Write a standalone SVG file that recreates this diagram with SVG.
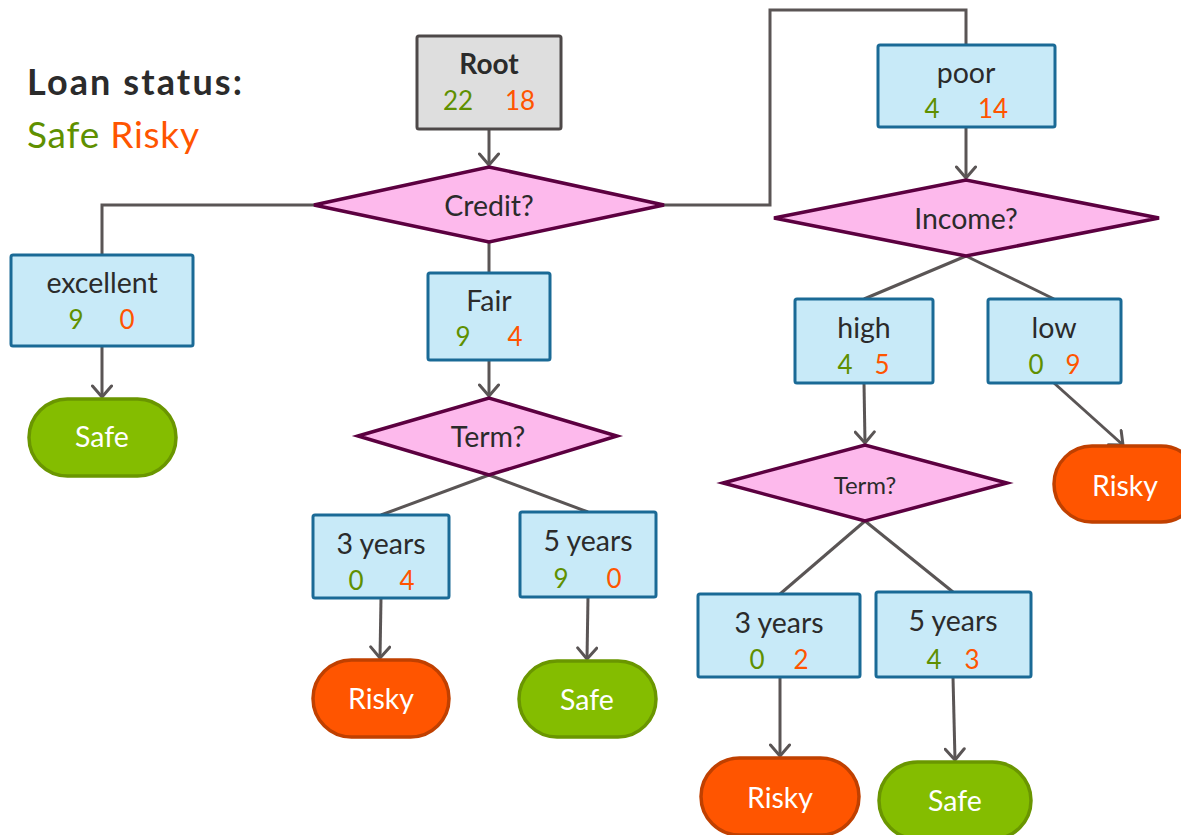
<svg xmlns="http://www.w3.org/2000/svg" width="1181" height="835" viewBox="0 0 1181 835">
<style>
text{font-family:Lato,"Open Sans","Liberation Sans",sans-serif;text-anchor:middle}
.lbl{font-size:28.5px;fill:#2b2b2b}
.g{font-size:26px;fill:#5f9000}
.o{font-size:26px;fill:#ff5500}
.box{fill:#c8eaf8;stroke:#1a6a96;stroke-width:3}
.dia{fill:#fdb9ec;stroke:#5c0040;stroke-width:3.5}
.safe{fill:#84bd00;stroke:#6a9600;stroke-width:3.5}
.risky{fill:#ff5500;stroke:#c04000;stroke-width:3.5}
.w{font-size:28.5px;fill:#ffffff}
.c{fill:none;stroke:#5a5555;stroke-width:3}
</style>
<defs>
<marker id="ah" viewBox="0 0 20 22" refX="18" refY="11" markerWidth="20" markerHeight="22" markerUnits="userSpaceOnUse" orient="auto">
<polyline points="7,1.5 18,11 7,20.5" fill="none" stroke="#5a5555" stroke-width="3" stroke-linecap="round" stroke-linejoin="round"/>
</marker>
</defs>
<g id="legend">
<text x="27" y="95" textLength="215" lengthAdjust="spacing" style="text-anchor:start;font-size:36px;font-weight:bold;fill:#2b2b2b">Loan status:</text>
<text x="27" y="148" textLength="172" lengthAdjust="spacing" style="text-anchor:start;font-size:37px"><tspan fill="#5f9000">Safe</tspan> <tspan fill="#ff5500">Risky</tspan></text>
</g>
<g id="connectors">
<line class="c" x1="489" y1="129" x2="489" y2="165" marker-end="url(#ah)"/>
<polyline class="c" points="314,205 102,205 102,255"/>
<polyline class="c" points="664,205 770,205 770,10 966,10 966,45"/>
<line class="c" x1="489" y1="242" x2="489" y2="273"/>
<line class="c" x1="102" y1="346" x2="102" y2="397" marker-end="url(#ah)"/>
<line class="c" x1="489" y1="360" x2="489" y2="396" marker-end="url(#ah)"/>
<line class="c" x1="489" y1="475" x2="381" y2="515"/>
<line class="c" x1="489" y1="475" x2="588" y2="512"/>
<line class="c" x1="381" y1="598" x2="380" y2="658" marker-end="url(#ah)"/>
<line class="c" x1="588" y1="597" x2="587" y2="659" marker-end="url(#ah)"/>
<line class="c" x1="966" y1="127" x2="966" y2="178" marker-end="url(#ah)"/>
<line class="c" x1="966" y1="256" x2="864" y2="299"/>
<line class="c" x1="966" y1="256" x2="1054" y2="299"/>
<line class="c" x1="864" y1="383" x2="865" y2="443" marker-end="url(#ah)"/>
<line class="c" x1="1054" y1="383" x2="1123" y2="445" marker-end="url(#ah)"/>
<line class="c" x1="865" y1="521" x2="780" y2="594"/>
<line class="c" x1="865" y1="521" x2="953" y2="592"/>
<line class="c" x1="780" y1="677" x2="780" y2="756" marker-end="url(#ah)"/>
<line class="c" x1="953" y1="677" x2="955" y2="760" marker-end="url(#ah)"/>
</g>
<g id="root">
<rect x="417" y="36" width="144" height="93" rx="2" fill="#dedede" stroke="#4d4848" stroke-width="3"/>
<text x="489" y="74" style="font-size:28px;font-weight:bold;fill:#2b2b2b">Root</text>
<text class="g" x="458" y="110">22</text><text class="o" x="520" y="110">18</text>
</g>
<g id="credit">
<polygon class="dia" points="314,205 489,167 664,205 489,242"/>
<text class="lbl" x="489" y="216">Credit?</text>
</g>
<g id="excellent">
<rect class="box" x="11" y="255" width="182" height="91" rx="2"/>
<text class="lbl" x="102" y="293">excellent</text>
<text class="g" x="76" y="329">9</text><text class="o" x="127" y="329">0</text>
</g>
<g id="safe1">
<rect class="safe" x="29" y="399" width="147" height="77" rx="38.5"/>
<text class="w" x="102" y="447">Safe</text>
</g>
<g id="fair">
<rect class="box" x="428" y="273" width="122" height="87" rx="2"/>
<text class="lbl" x="489" y="311">Fair</text>
<text class="g" x="463" y="346">9</text><text class="o" x="515" y="346">4</text>
</g>
<g id="term1">
<polygon class="dia" points="358,436 489,398 617,436 489,475"/>
<text class="lbl" x="488" y="447">Term?</text>
</g>
<g id="y3a">
<rect class="box" x="313" y="515" width="136" height="83" rx="2"/>
<text class="lbl" x="381" y="554">3 years</text>
<text class="g" x="356" y="590">0</text><text class="o" x="407" y="590">4</text>
</g>
<g id="y5a">
<rect class="box" x="520" y="512" width="136" height="85" rx="2"/>
<text class="lbl" x="588" y="551">5 years</text>
<text class="g" x="561" y="588">9</text><text class="o" x="614" y="588">0</text>
</g>
<g id="risky1">
<rect class="risky" x="313" y="660" width="136" height="77" rx="38.5"/>
<text class="w" x="381" y="709">Risky</text>
</g>
<g id="safe2">
<rect class="safe" x="519" y="661" width="137" height="76" rx="38"/>
<text class="w" x="587" y="710">Safe</text>
</g>
<g id="poor">
<rect class="box" x="878" y="45" width="177" height="82" rx="2"/>
<text class="lbl" x="966" y="83">poor</text>
<text class="g" x="932" y="118">4</text><text class="o" x="993" y="118">14</text>
</g>
<g id="income">
<polygon class="dia" points="774,218 966,180 1159,218 966,256"/>
<text class="lbl" x="966" y="229">Income?</text>
</g>
<g id="high">
<rect class="box" x="795" y="299" width="138" height="84" rx="2"/>
<text class="lbl" x="864" y="338">high</text>
<text class="g" x="845" y="374">4</text><text class="o" x="882" y="374">5</text>
</g>
<g id="low">
<rect class="box" x="988" y="299" width="133" height="84" rx="2"/>
<text class="lbl" x="1054" y="338">low</text>
<text class="g" x="1036" y="374">0</text><text class="o" x="1073" y="374">9</text>
</g>
<g id="risky2">
<rect class="risky" x="1054" y="446" width="145" height="76" rx="38"/>
<text class="w" x="1125" y="496">Risky</text>
</g>
<g id="term2">
<polygon class="dia" points="723,483 865,445 1007,483 865,521"/>
<text x="865" y="494" style="font-size:24px;fill:#2b2b2b">Term?</text>
</g>
<g id="y3b">
<rect class="box" x="698" y="594" width="162" height="83" rx="2"/>
<text class="lbl" x="779" y="633">3 years</text>
<text class="g" x="757" y="669">0</text><text class="o" x="801" y="669">2</text>
</g>
<g id="y5b">
<rect class="box" x="876" y="592" width="155" height="85" rx="2"/>
<text class="lbl" x="953" y="631">5 years</text>
<text class="g" x="934" y="669">4</text><text class="o" x="972" y="669">3</text>
</g>
<g id="risky3">
<rect class="risky" x="701" y="758" width="158" height="77" rx="38.5"/>
<text class="w" x="780" y="808">Risky</text>
</g>
<g id="safe3">
<rect class="safe" x="879" y="762" width="152" height="77" rx="38.5"/>
<text class="w" x="955" y="811">Safe</text>
</g>
</svg>
